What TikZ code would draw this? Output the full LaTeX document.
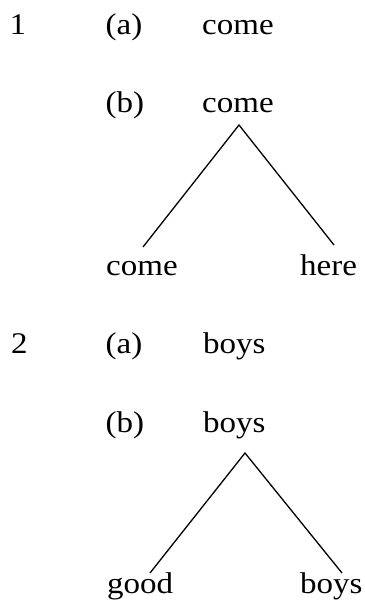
\documentclass[tikz,border=0pt]{standalone}
\usepackage{fontspec}
\setmainfont{Liberation Serif}[FakeStretch=1.1]
\begin{document}
\begin{tikzpicture}[x=1pt,y=-1pt,
  lbl/.style={anchor=base west,inner sep=0pt,font=\fontsize{30}{36}\selectfont},
  branch/.style={line width=1.3pt}]
\useasboundingbox (0,0) rectangle (364,601);
% example 1
\node[lbl] (n1) at (9.5,35) {1};
\node[lbl] (a1) at (105.5,35) {(a)};
\node[lbl] (w1a) at (202,35) {come};
\node[lbl] (b1) at (105.5,113) {(b)};
\node[lbl] (w1b) at (202,113) {come};
\node[lbl] (c1l) at (106,275) {come};
\node[lbl] (c1r) at (300,275) {here};
\coordinate (t1) at (239,125);
\coordinate (l1) at (143,247);
\coordinate (r1) at (334,245);
\draw[branch] (l1) -- (t1) -- (r1);
% example 2
\node[lbl] (n2) at (11,353) {2};
\node[lbl] (a2) at (105.5,353) {(a)};
\node[lbl] (w2a) at (203,353) {boys};
\node[lbl] (b2) at (105.5,432) {(b)};
\node[lbl] (w2b) at (203,432) {boys};
\node[lbl] (c2l) at (107,593) {good};
\node[lbl] (c2r) at (300,593) {boys};
\coordinate (t2) at (245,453);
\coordinate (l2) at (150,573);
\coordinate (r2) at (342,573);
\draw[branch] (l2) -- (t2) -- (r2);
\end{tikzpicture}
\end{document}
